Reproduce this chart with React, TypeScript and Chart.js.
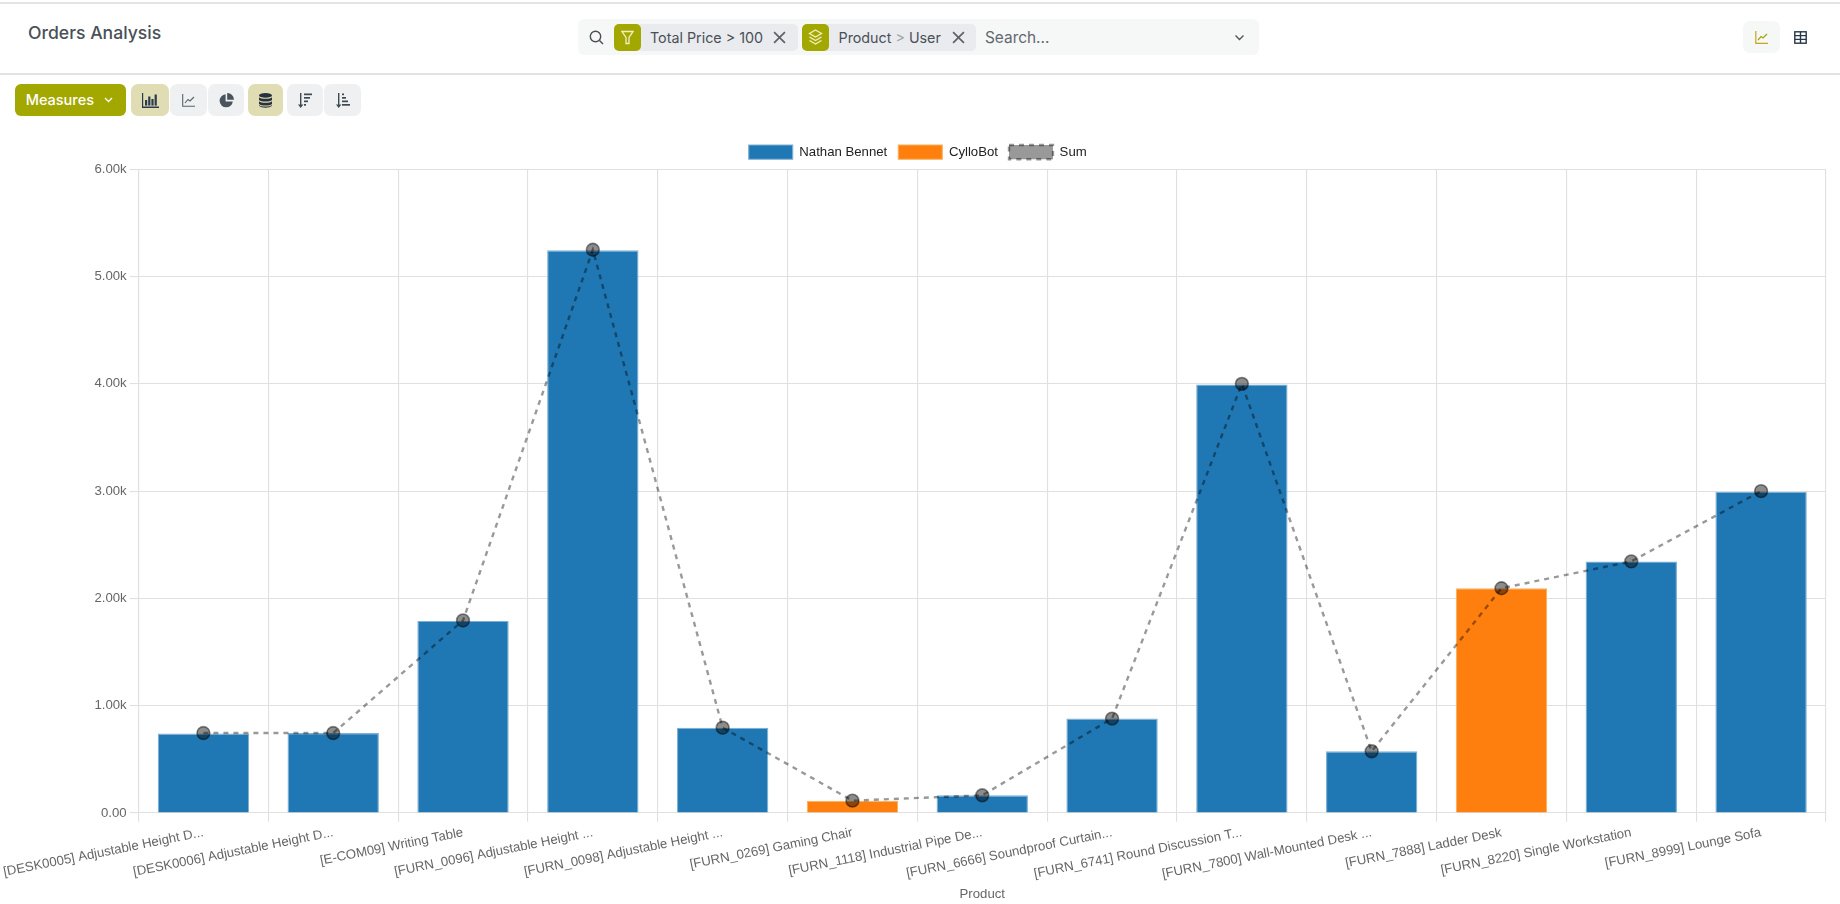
import React, { useEffect, useRef } from "react";
import { Chart, registerables } from "chart.js";

Chart.register(...registerables);

const categories = [
  "[DESK0005] Adjustable Height D...",
  "[DESK0006] Adjustable Height D...",
  "[E-COM09] Writing Table",
  "[FURN_0096] Adjustable Height ...",
  "[FURN_0098] Adjustable Height ...",
  "[FURN_0269] Gaming Chair",
  "[FURN_1118] Industrial Pipe De...",
  "[FURN_6666] Soundproof Curtain...",
  "[FURN_6741] Round Discussion T...",
  "[FURN_7800] Wall-Mounted Desk ...",
  "[FURN_7888] Ladder Desk",
  "[FURN_8220] Single Workstation",
  "[FURN_8999] Lounge Sofa",
];
const nathanBennet = [740, 745, 1790, 5245, 795, null, 165, 880, 3995, 575, null, 2345, 2995];
const cylloBot = [null, null, null, null, null, 115, null, null, null, null, 2095, null, null];
const sumValues = [745, 745, 1795, 5250, 795, 115, 165, 880, 4000, 575, 2095, 2345, 3000];

const OLIVE = "#a3a800";
const ACTIVE = "#e0ddb4";
const IDLE = "#eff0f2";
const TXT = "#495057";

const abs = (left: number, top: number, width: number, height: number, extra: React.CSSProperties = {}): React.CSSProperties => ({
  position: "absolute", left, top, width, height, ...extra,
});

function Btn({ x, w, bg, children }: { x: number; w: number; bg: string; children: React.ReactNode }) {
  return (
    <div style={abs(x, 84, w, 32, { background: bg, borderRadius: 7, display: "flex", alignItems: "center", justifyContent: "center" })}>
      {children}
    </div>
  );
}

function Chip({ x, w, icon, children }: { x: number; w: number; icon: React.ReactNode; children: React.ReactNode }) {
  return (
    <div style={abs(x, 24, w, 27, { background: "#e9ebee", borderRadius: 5 })}>
      <div style={abs(0, 0, 27, 27, { background: OLIVE, borderRadius: 5, display: "flex", alignItems: "center", justifyContent: "center" })}>{icon}</div>
      {children}
    </div>
  );
}

const Close = ({ x }: { x: number }) => (
  <svg style={abs(x, 7, 13, 13)} viewBox="0 0 12 12"><path d="M1 1 L11 11 M11 1 L1 11" stroke="#5e646a" strokeWidth="1.6" /></svg>
);

export default function App() {
  const ref = useRef<HTMLCanvasElement>(null);
  useEffect(() => {
    document.body.style.margin = "0";
    document.body.style.background = "#fff";
    const chart = new Chart(ref.current!, {
      type: "bar",
      data: {
        labels: categories,
        datasets: [
          { label: "Nathan Bennet", data: nathanBennet, backgroundColor: "#1f77b4", borderColor: "#7fb0d3", borderWidth: 1.1, order: 1, categoryPercentage: 0.88, barPercentage: 0.8 },
          { label: "CylloBot", data: cylloBot, backgroundColor: "#ff7f0e", borderColor: "#f5b25f", borderWidth: 1.1, order: 2, categoryPercentage: 0.88, barPercentage: 0.8 },
          {
            type: "line", label: "Sum", data: sumValues, order: 0,
            borderColor: "rgba(0,0,0,0.4)", backgroundColor: "rgba(0,0,0,0.4)", borderWidth: 2.4, borderDash: [5, 5],
            pointRadius: 6.4, pointBorderWidth: 1.6, pointBackgroundColor: "rgba(0,0,0,0.45)", pointBorderColor: "rgba(0,0,0,0.45)",
            tension: 0, fill: false,
          },
        ] as any,
      },
      options: {
        responsive: false,
        animation: false,
        devicePixelRatio: 1,
        layout: { padding: { left: 9.4, right: 14, top: 10, bottom: 3 } },
        plugins: {
          tooltip: { enabled: false },
          legend: {
            position: "top",
            labels: {
              color: "#222", boxWidth: 44, boxHeight: 14.3, padding: 11,
              font: { family: "Liberation Sans", size: 13.2 },
              sort: (a: any, b: any) => a.datasetIndex - b.datasetIndex,
            },
          },
        },
        scales: {
          x: {
            stacked: true,
            grid: { color: "#e0e0e0", lineWidth: 1.1, tickLength: 8.8 },
            border: { color: "#e0e0e0", width: 1.1 },
            ticks: { color: "#666", autoSkip: false, minRotation: 11.3, maxRotation: 11.3, font: { family: "Liberation Sans", size: 13.2 } },
            title: { display: true, text: "Product", color: "#666", font: { family: "Liberation Sans", size: 13.2 } },
            afterFit: (s: any) => { s.height = 93; s.paddingLeft = 0; s.paddingRight = 0; },
          },
          y: {
            stacked: true, min: 0, max: 6000,
            grid: { color: "#e0e0e0", lineWidth: 1.1, tickLength: 8.8 },
            border: { color: "#e0e0e0", width: 1.1 },
            ticks: { color: "#666", stepSize: 1000, font: { family: "Liberation Sans", size: 13.2 }, callback: (v: any) => (Number(v) === 0 ? "0.00" : (Number(v) / 1000).toFixed(2) + "k") },
            afterFit: (s: any) => { s.width = 129.1; },
          },
        },
      },
    } as any);
    return () => chart.destroy();
  }, []);

  return (
    <div style={{ position: "relative", width: 1840, height: 904, overflow: "hidden", fontFamily: "Inter, sans-serif", background: "#fff" }}>
      <div style={abs(0, 2, 1840, 2, { background: "#e4e4e4" })} />
      <div style={abs(0, 73, 1840, 2, { background: "#e2e2e2" })} />
      <div style={abs(28, 21, 200, 24, { fontSize: 17.6, fontWeight: 500, color: TXT, lineHeight: "24px" })}>Orders Analysis</div>

      <div style={abs(578, 19, 681, 36, { background: "#f6f7f7", borderRadius: 6 })} />
      <svg style={abs(589, 30, 15, 15)} viewBox="0 0 15 15" fill="none" stroke={TXT} strokeWidth="1.4"><circle cx="6.5" cy="6.5" r="5.2" /><path d="M10.5 10.5 L14 14" /></svg>
      <Chip x={614} w={184} icon={<svg width="13" height="15" viewBox="0 0 13 15" fill="none" stroke="#f3efc4" strokeWidth="1.3"><path d="M1 1.5 H12 L8 7.5 V13.5 H5 V7.5 Z" /></svg>}>
        <div style={abs(36, 0, 125, 27, { fontSize: 14.3, lineHeight: "27px", color: TXT, whiteSpace: "nowrap" })}>Total Price &gt; 100</div>
        <Close x={159} />
      </Chip>
      <Chip x={802} w={174} icon={<svg width="15" height="17" viewBox="0 0 15 17" fill="none" stroke="#f3efc4" strokeWidth="1.3"><path d="M7.5 1 L13.5 4.5 L7.5 8 L1.5 4.5 Z M1.5 8 L7.5 11.5 L13.5 8 M1.5 11.5 L7.5 15 L13.5 11.5" /></svg>}>
        <div style={abs(36.5, 0, 125, 27, { fontSize: 14.3, lineHeight: "27px", color: TXT, whiteSpace: "nowrap" })}>Product <span style={{ color: "#a0a4a8" }}>&gt;</span> User</div>
        <Close x={150} />
      </Chip>
      <div style={abs(985, 24, 120, 27, { fontSize: 15.4, lineHeight: "27px", color: "#62686e" })}>Search...</div>
      <svg style={abs(1234, 34, 11, 7)} viewBox="0 0 11 7" fill="none" stroke="#555" strokeWidth="1.4"><path d="M1.5 1.5 L5.5 5.5 L9.5 1.5" /></svg>

      <div style={abs(1743, 21, 37, 32, { background: "#f6f7f7", borderRadius: 7 })} />
      <svg style={abs(1755, 31, 13, 13)} viewBox="0 0 13 13" fill="none" strokeWidth="1.2"><path d="M0.8 0 V12.3 H13" stroke="#c6a520" /><path d="M3 9 L6 5.5 L8 7 L12 3" stroke="#a3a800" /></svg>
      <svg style={abs(1794, 31, 13, 13)} viewBox="0 0 13 13" fill="none" stroke="#27374a" strokeWidth="1.4"><rect x="0.8" y="0.8" width="11.4" height="11.4" /><path d="M0.8 4.6 H12.2 M0.8 8.4 H12.2 M6.5 0.8 V12.2" /></svg>

      <div style={abs(15, 84, 111, 32, { background: OLIVE, borderRadius: 6 })}>
        <div style={abs(10.7, 0, 80, 32, { color: "#fff", fontSize: 14.5, fontWeight: 500, lineHeight: "31px" })}>Measures</div>
        <svg style={abs(89, 13, 9, 6)} viewBox="0 0 9 6" fill="none" stroke="#fff" strokeWidth="1.3"><path d="M1 1 L4.5 4.5 L8 1" /></svg>
      </div>
      <Btn x={131} w={38} bg={ACTIVE}>
        <svg width="17" height="15" viewBox="0 0 17 15" fill="#2b3a4c"><path d="M0 0 H1.2 V13.6 H17 V15 H0 Z" /><rect x="3" y="7" width="2.2" height="5.6" /><rect x="6.2" y="3.5" width="2.2" height="9.1" /><rect x="9.4" y="6" width="2.2" height="6.6" /><rect x="12.6" y="1.5" width="2.2" height="11.1" /></svg>
      </Btn>
      <Btn x={170} w={37} bg={IDLE}>
        <svg width="13" height="13" viewBox="0 0 13 13" fill="none" strokeWidth="1.1" stroke="#5a646e"><path d="M0.7 0 V12.3 H13" /><path d="M3 9 L6 5.5 L8 7 L12 3" /></svg>
      </Btn>
      <Btn x={208} w={36} bg={IDLE}>
        <svg width="15" height="15" viewBox="0 0 15 15" fill="#4a535c"><path d="M6.6 1.2 A6.6 6.6 0 1 0 13.8 8.4 H6.6 Z" /><path d="M8.2 0 A6.8 6.8 0 0 1 15 6.8 H8.2 Z" /></svg>
      </Btn>
      <Btn x={248} w={35} bg={ACTIVE}>
        <svg width="13" height="15" viewBox="0 0 13 15" fill="#27323e"><ellipse cx="6.5" cy="2.4" rx="6.5" ry="2.4" /><path d="M0 4.3 C2 6.3 11 6.3 13 4.3 V7 C11 9 2 9 0 7 Z" /><path d="M0 8.3 C2 10.3 11 10.3 13 8.3 V11 C11 13 2 13 0 11 Z" /><path d="M0 12 C2 14 11 14 13 12 V12.8 C11 15.4 2 15.4 0 12.8 Z" /></svg>
      </Btn>
      <Btn x={287} w={36} bg={IDLE}>
        <svg width="14" height="15" viewBox="0 0 14 15" fill="#3f4952"><path d="M2 0 H3.4 V11.5 H5.4 L2.7 15 L0 11.5 H2 Z" /><rect x="6" y="0.5" width="8" height="1.7" /><rect x="6" y="4" width="6" height="1.7" /><rect x="6" y="7.5" width="4" height="1.7" /><rect x="6" y="11" width="2" height="1.7" /></svg>
      </Btn>
      <Btn x={324} w={37} bg={IDLE}>
        <svg width="14" height="15" viewBox="0 0 14 15" fill="#3f4952"><path d="M2 0 H3.4 V11.5 H5.4 L2.7 15 L0 11.5 H2 Z" /><rect x="6" y="0.5" width="2" height="1.7" /><rect x="6" y="4" width="4" height="1.7" /><rect x="6" y="7.5" width="6" height="1.7" /><rect x="6" y="11" width="8" height="1.7" /></svg>
      </Btn>

      <canvas ref={ref} width={1840} height={785} style={{ position: "absolute", left: 0, top: 124, width: 1840, height: 785 }} />
    </div>
  );
}
